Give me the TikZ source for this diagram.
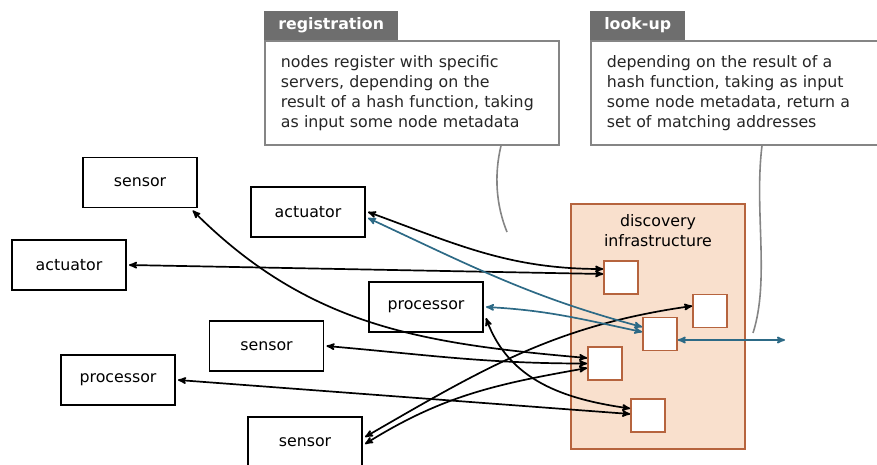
\documentclass[tikz,border=0pt]{standalone}
\usepackage{fontspec}
\setmainfont{DejaVu Sans}
\usepackage{tikz}
\usetikzlibrary{arrows}
\usetikzlibrary{shapes}
\usetikzlibrary{positioning}
\definecolor{infrafill}{HTML}{F9E0CD}
\definecolor{infraline}{HTML}{B6643E}
\definecolor{linkblue}{HTML}{2D6A86}
\definecolor{tabgray}{HTML}{6E6E6E}
\definecolor{notegray}{HTML}{858585}
\tikzstyle{dev} = [rectangle, draw, line width=1.8pt, minimum width=114pt,
    minimum height=50pt, outer sep=3pt]
\tikzstyle{srv} = [rectangle, draw=infraline, fill=white, line width=1.6pt,
    minimum width=34pt, minimum height=33pt, inner sep=0pt]
\tikzstyle{infrabox} = [rectangle, draw=infraline, fill=infrafill, line width=1.8pt,
    minimum width=174pt, minimum height=245pt]
\tikzstyle{link} = [<->, line width=1.7pt]
\tikzstyle{bluelink} = [link, color=linkblue]
\tikzstyle{notebox} = [rectangle, draw=notegray, fill=white, line width=1.7pt,
    anchor=north west, align=left, inner xsep=16pt, minimum height=104pt, text=black!85]
\tikzstyle{notetab} = [rectangle, fill=tabgray, text=white, anchor=south west,
    font=\fontsize{15.8pt}{20pt}\selectfont\bfseries, minimum height=29pt, inner xsep=14pt]
\tikzstyle{notelink} = [draw=notegray, line width=1.6pt]

\begin{document}
\begin{tikzpicture}[x=1pt,y=-1pt,>=stealth',semithick,
                    font=\fontsize{15.8pt}{20pt}\selectfont]
  \useasboundingbox (0,0) rectangle (877,465);

  % discovery infrastructure
  \node[infrabox] (infra) at (658,326.5) {};
  \node[anchor=north,align=center,inner sep=2pt] (infralabel)
       at ([yshift=-9pt]infra.north) {discovery\\infrastructure};

  \node[srv] (h1) at (621,277.5) {};
  \node[srv] (h2) at (710,311) {};
  \node[srv] (h3) at (660,334) {};
  \node[srv] (h4) at (605,363.5) {};
  \node[srv] (h5) at (648,415.5) {};

  % devices
  \node[dev] (sen1)  at (140,182.5) {sensor};
  \node[dev] (act1)  at (308,212)   {actuator};
  \node[dev] (act2)  at (69,265)    {actuator};
  \node[dev] (proc1) at (426,307)   {processor};
  \node[dev] (sen2)  at (266.5,346) {sensor};
  \node[dev] (proc2) at (118,380)   {processor};
  \node[dev] (sen3)  at (305,442)   {sensor};
  \coordinate (ext) at (785,340);

  \path[link] (act1.east) edge[out=-20,in=180] ([yshift=8.5pt]h1.west)
        (act2.east) edge ([yshift=3.5pt]h1.west)
        (sen1.-28) edge[out=-45,in=175] ([yshift=5.5pt]h4.west)
        (sen2.east) edge[out=-5,in=180] (h4.west)
        ([yshift=5pt]sen3.east) edge[out=30,in=188] ([yshift=5pt]h2.west)
        ([yshift=-2pt]sen3.east) edge[out=32,in=190] ([yshift=-4.5pt]h4.west)
        (proc2.east) edge ([yshift=1.5pt]h5.west)
        ([yshift=-11pt]proc1.east) edge[out=-70,in=172] ([yshift=7pt]h5.west);
  \path[bluelink] ([yshift=-6pt]act1.east) edge[out=-25,in=165] ([yshift=7pt]h3.west)
        (proc1.east) edge[out=-3,in=168] ([yshift=2pt]h3.west)
        ([yshift=-6pt]h3.east) edge (ext);

  % notes
  \node[notebox,text width=262pt] (regbox) at (264,40)
       {nodes register with specific\\servers, depending on the\\result of a hash function, taking\\as input some node metadata};
  \node[notetab] (regtab) at (regbox.north west) {registration};
  \node[notebox,text width=272pt] (lookbox) at (590,40)
       {depending on the result of a\\hash function, taking as input\\some node metadata, return a\\set of matching addresses};
  \node[notetab] (looktab) at (lookbox.north west) {look-up};

  \coordinate (regtip) at (507,232);
  \coordinate (looktip) at (753,333);
  \draw[notelink] ([xshift=237pt]regbox.south west) .. controls (494,175) and (496,205) .. (regtip);
  \draw[notelink] ([xshift=172pt]lookbox.south west) .. controls (754,210) and (770,280) .. (looktip);
\end{tikzpicture}
\end{document}
